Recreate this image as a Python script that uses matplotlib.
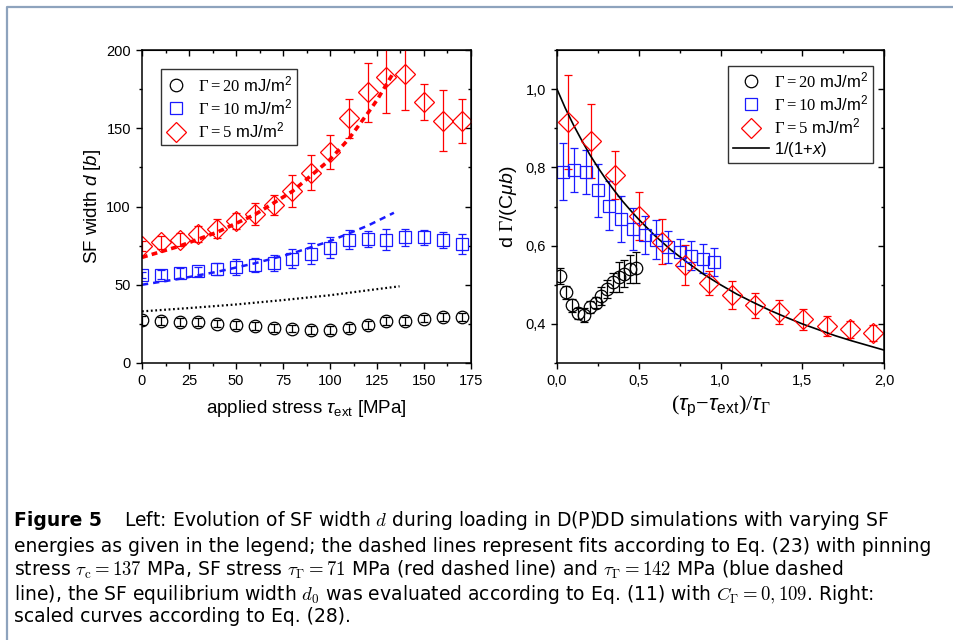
import numpy as np
import matplotlib
matplotlib.use("Agg")
import matplotlib.pyplot as plt
from matplotlib.lines import Line2D
from matplotlib.ticker import MultipleLocator, FixedLocator

plt.rcParams['font.family'] = ['Liberation Sans', 'DejaVu Sans']
plt.rcParams['mathtext.fontset'] = 'custom'
plt.rcParams['mathtext.rm'] = 'Liberation Serif'
plt.rcParams['mathtext.it'] = 'Liberation Sans:italic'
plt.rcParams['mathtext.sf'] = 'Liberation Sans'
plt.rcParams['mathtext.bf'] = 'Liberation Sans:bold'

# left panel: SF width vs applied stress
tau_ext = [0, 10, 20, 30, 40, 50, 60, 70, 80, 90, 100, 110, 120, 130, 140, 150, 160, 170]
d_g20 = [27.3, 26.9, 26.2, 26.2, 25.2, 24.1, 23.5, 22.6, 22.0, 21.3, 21.3, 22.6, 24.5, 26.7, 26.9, 28.4, 29.4, 29.4]
err_g20 = [3.0, 2.5, 2.5, 2.5, 2.5, 2.5, 2.5, 2.5, 2.5, 2.5, 2.5, 2.5, 2.5, 2.5, 2.5, 2.5, 2.5, 2.5]
d_g10 = [56.0, 56.5, 57.6, 58.6, 60.1, 61.4, 62.5, 64.0, 66.7, 69.9, 73.8, 78.9, 79.3, 78.9, 80.2, 80.2, 78.5, 75.9]
err_g10 = [2.0, 3.0, 3.0, 3.0, 3.7, 5.0, 4.5, 5.0, 6.0, 6.5, 7.0, 5.8, 5.3, 7.0, 5.3, 5.0, 5.0, 6.3]
d_g5 = [74.8, 77.0, 78.9, 82.3, 85.9, 90.6, 95.1, 100.9, 110.0, 121.7, 135.0, 156.3, 173.0, 183.0, 184.4, 167.0, 154.8, 154.6]
err_g5 = [3.0, 4.3, 4.4, 5.0, 6.0, 5.0, 7.0, 6.4, 10.3, 11.0, 11.0, 12.5, 19.0, 23.0, 23.0, 11.5, 19.5, 14.0]

# fitted curves
fit_x_red = [0, 20, 40, 60, 80, 100, 110, 120, 125, 130, 134]
fit_red = [67.5, 74.7, 83.6, 94.8, 109.7, 130.0, 143.2, 159.5, 168.0, 178.0, 186.0]
fit_x_blue = [0, 20, 40, 60, 80, 100, 120, 134]
fit_blue = [50.0, 53.8, 58.3, 63.7, 70.1, 77.9, 87.7, 96.0]
fit_x_black = [0, 25, 50, 75, 100, 125, 137]
fit_black = [33.0, 35.1, 37.4, 40.2, 43.3, 47.2, 49.0]

# right panel: scaled curves
xs_g20 = [0.02, 0.055, 0.09, 0.128, 0.163, 0.2, 0.236, 0.271, 0.306, 0.342, 0.377, 0.412, 0.447, 0.482]
ys_g20 = [0.523, 0.481, 0.447, 0.427, 0.422, 0.444, 0.454, 0.471, 0.489, 0.506, 0.519, 0.528, 0.54, 0.544]
es_g20 = [0.02, 0.017, 0.017, 0.014, 0.018, 0.015, 0.014, 0.023, 0.023, 0.025, 0.038, 0.035, 0.035, 0.04]
xs_g10 = [0.037, 0.106, 0.177, 0.248, 0.32, 0.391, 0.464, 0.536, 0.605, 0.678, 0.75, 0.821, 0.892, 0.963]
ys_g10 = [0.789, 0.794, 0.788, 0.741, 0.702, 0.668, 0.642, 0.627, 0.615, 0.596, 0.583, 0.574, 0.566, 0.558]
es_g10 = [0.073, 0.056, 0.057, 0.068, 0.062, 0.06, 0.054, 0.049, 0.05, 0.041, 0.034, 0.037, 0.037, 0.036]
xs_g5 = [0.067, 0.21, 0.356, 0.499, 0.642, 0.784, 0.927, 1.069, 1.212, 1.36, 1.503, 1.65, 1.792, 1.935]
ys_g5 = [0.915, 0.868, 0.781, 0.676, 0.61, 0.551, 0.504, 0.474, 0.448, 0.431, 0.412, 0.395, 0.386, 0.376]
es_g5 = [0.12, 0.094, 0.062, 0.062, 0.058, 0.051, 0.031, 0.035, 0.032, 0.031, 0.027, 0.026, 0.021, 0.021]

curve_x = [0, 0.05, 0.1, 0.15, 0.2, 0.25, 0.3, 0.35, 0.4, 0.45, 0.5, 0.6, 0.7, 0.8, 0.9, 1.0,
           1.1, 1.2, 1.3, 1.4, 1.5, 1.6, 1.7, 1.8, 1.9, 2.0]
curve_y = [1.0, 0.952, 0.909, 0.870, 0.833, 0.8, 0.769, 0.741, 0.714, 0.690, 0.667, 0.625, 0.588,
           0.556, 0.526, 0.5, 0.476, 0.455, 0.435, 0.417, 0.4, 0.385, 0.370, 0.357, 0.345, 0.333]

labels = [r'$\mathrm{\Gamma{=}20}$ mJ/m$^\mathsf{2}$',
          r'$\mathrm{\Gamma{=}10}$ mJ/m$^\mathsf{2}$',
          r'$\mathrm{\Gamma{=}5}$ mJ/m$^\mathsf{2}$']

BLUE = '#1a1aff'
RED = '#ff0000'

fig = plt.figure(figsize=(9.54, 6.4), dpi=100)
W, H = 954, 640
axL = fig.add_axes([142 / W, 1 - 363 / H, 329 / W, 313 / H])
axR = fig.add_axes([557 / W, 1 - 363 / H, 327 / W, 313 / H])

ebkw = dict(linestyle='none', capsize=3.2, elinewidth=0.9, capthick=0.9, mew=0.9)
MS_O, MS_S, MS_D = 9, 9, 10.5

axL.errorbar(tau_ext, d_g20, yerr=err_g20, marker='o', ms=MS_O, mfc='none', mec='k', ecolor='k', **ebkw)
axL.errorbar(tau_ext, d_g10, yerr=err_g10, marker='s', ms=MS_S, mfc='none', mec=BLUE, ecolor=BLUE, **ebkw)
axL.errorbar(tau_ext, d_g5, yerr=err_g5, marker='D', ms=MS_D, mfc='none', mec=RED, ecolor=RED, **ebkw)
axL.plot(fit_x_red, fit_red, color=RED, lw=2.6, dashes=(1.6, 1.2))
axL.plot(fit_x_blue, fit_blue, color=BLUE, lw=1.8, dashes=(2.5, 2.0))
axL.plot(fit_x_black, fit_black, color='k', lw=1.6, dashes=(0.8, 1.2))

axL.set_xlim(0, 175)
axL.set_ylim(0, 200)
axL.xaxis.set_major_locator(MultipleLocator(25))
axL.xaxis.set_minor_locator(MultipleLocator(12.5))
axL.yaxis.set_major_locator(MultipleLocator(50))
axL.yaxis.set_minor_locator(MultipleLocator(25))
axL.set_xlabel(r'applied stress $\tau_\mathsf{ext}$ [MPa]', fontsize=13.5, labelpad=7)
axL.set_ylabel(r'SF width $d$ [$b$]', fontsize=13.5, labelpad=2)

axR.errorbar(xs_g20, ys_g20, yerr=es_g20, marker='o', ms=MS_O, mfc='none', mec='k', ecolor='k', **ebkw)
axR.errorbar(xs_g10, ys_g10, yerr=es_g10, marker='s', ms=MS_S, mfc='none', mec=BLUE, ecolor=BLUE, **ebkw)
axR.errorbar(xs_g5, ys_g5, yerr=es_g5, marker='D', ms=MS_D, mfc='none', mec=RED, ecolor=RED, **ebkw)
axR.plot(curve_x, curve_y, color='k', lw=1.2)

axR.set_xlim(0, 2.0)
axR.set_ylim(0.3, 1.1)
axR.xaxis.set_major_locator(FixedLocator([0, 0.5, 1.0, 1.5, 2.0]))
axR.set_xticklabels(['0,0', '0,5', '1,0', '1,5', '2,0'])
axR.xaxis.set_minor_locator(MultipleLocator(0.25))
axR.yaxis.set_major_locator(FixedLocator([0.4, 0.6, 0.8, 1.0]))
axR.set_yticklabels(['0,4', '0,6', '0,8', '1,0'])
axR.yaxis.set_minor_locator(MultipleLocator(0.1))
axR.set_xlabel(r'$\mathrm{(}\tau_\mathsf{p}\mathrm{-}\tau_\mathsf{ext}\mathrm{)/}\tau_\Gamma$', fontsize=16, labelpad=4)
axR.set_ylabel(r'd $\mathit{\Gamma}$/(C$\mu b$)', fontsize=14, labelpad=5)

for ax in (axL, axR):
    for s in ax.spines.values():
        s.set_linewidth(1.1)
    ax.tick_params(which='both', direction='out', labelsize=10.5, width=1.0, top=False, right=False)
    ax.tick_params(which='major', length=4.5)
    ax.tick_params(which='minor', length=2.5)
    # inward ticks on top and right
    sec_x = ax.secondary_xaxis('top')
    sec_x.set_xticks(ax.get_xticks(minor=False))
    sec_x.xaxis.set_minor_locator(ax.xaxis.get_minor_locator())
    sec_x.tick_params(which='both', direction='in', labeltop=False, width=1.0)
    sec_x.tick_params(which='major', length=4.5)
    sec_x.tick_params(which='minor', length=2.5)
    sec_x.set_xticklabels([])
    sec_y = ax.secondary_yaxis('right')
    sec_y.set_yticks(ax.get_yticks(minor=False))
    sec_y.yaxis.set_minor_locator(ax.yaxis.get_minor_locator())
    sec_y.tick_params(which='both', direction='in', labelright=False, width=1.0)
    sec_y.tick_params(which='major', length=4.5)
    sec_y.tick_params(which='minor', length=2.5)
    sec_y.set_yticklabels([])

handlesL = [Line2D([], [], ls='none', marker='o', ms=MS_O, mfc='none', mec='k', mew=0.9),
            Line2D([], [], ls='none', marker='s', ms=MS_S, mfc='none', mec=BLUE, mew=0.9),
            Line2D([], [], ls='none', marker='D', ms=MS_D, mfc='none', mec=RED, mew=0.9)]
legL = axL.legend(handlesL, labels, loc='upper left', bbox_to_anchor=(0.058, 0.939),
                  borderaxespad=0, fontsize=12, frameon=True, fancybox=False,
                  edgecolor='k', handlelength=1.2, handletextpad=0.7, labelspacing=0.2,
                  borderpad=0.3)
legL.get_frame().set_linewidth(1.0)

handlesR = handlesL + [Line2D([], [], color='k', lw=1.2)]
legR = axR.legend(handlesR, labels + [r'1/(1+$x$)'], loc='upper right', bbox_to_anchor=(0.966, 0.949),
                  borderaxespad=0, fontsize=12, frameon=True, fancybox=False,
                  edgecolor='k', handlelength=2.2, handletextpad=0.3, labelspacing=0.2,
                  borderpad=0.25)
legR.get_frame().set_linewidth(1.0)

# page frame
fig.add_artist(Line2D([7 / W, 7 / W, 1.0], [0.0, 1 - 7 / H, 1 - 7 / H], transform=fig.transFigure,
                      color='#8ea3bd', lw=1.6))

# caption
cap_size = 13.5
fig.text(14 / W, 1 - 521 / H, 'Figure 5', fontsize=cap_size, fontweight='bold', fontfamily='DejaVu Sans',
         va='center')
cap_lines = [
    r'Left: Evolution of SF width $d$ during loading in D(P)DD simulations with varying SF',
    r'energies as given in the legend; the dashed lines represent fits according to Eq. (23) with pinning',
    r'stress $\tau_\mathrm{c} = 137$ MPa, SF stress $\tau_\Gamma = 71$ MPa (red dashed line) and $\tau_\Gamma = 142$ MPa (blue dashed',
    r'line), the SF equilibrium width $d_0$ was evaluated according to Eq. (11) with $C_\Gamma = 0,109$. Right:',
    r'scaled curves according to Eq. (28).',
]
cap_y = [521, 546, 570, 594, 617]
for i, (line, yy) in enumerate(zip(cap_lines, cap_y)):
    x0 = 124 if i == 0 else 14
    fig.text(x0 / W, 1 - yy / H, line, fontsize=cap_size, fontfamily='DejaVu Sans', va='center',
             math_fontfamily='cm')

fig.savefig('out.png', dpi=100)
